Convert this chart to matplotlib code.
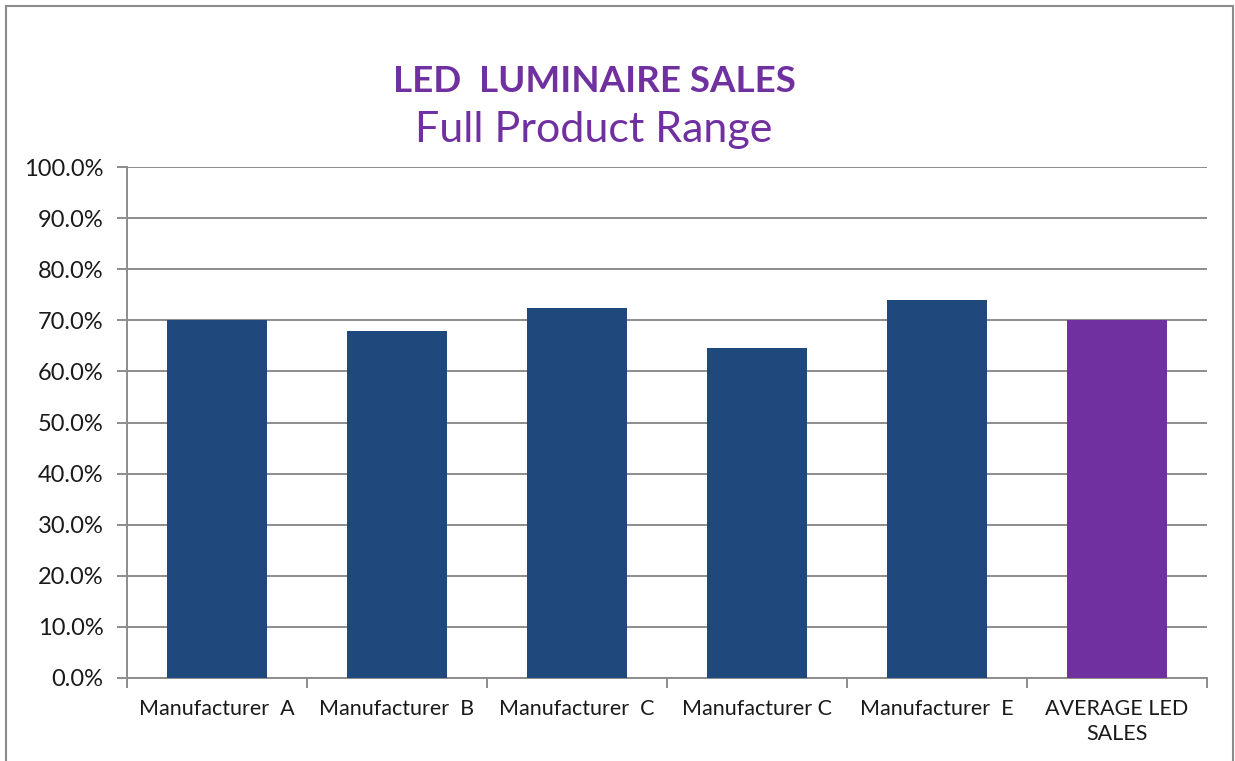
import matplotlib.pyplot as plt
from matplotlib.patches import Rectangle
from matplotlib.ticker import FixedLocator, PercentFormatter

plt.rcParams['font.family'] = ['Lato', 'DejaVu Sans']

categories = ['Manufacturer  A', 'Manufacturer  B', 'Manufacturer  C',
              'Manufacturer C', 'Manufacturer  E', 'AVERAGE LED\nSALES']
values = [70.0, 68.0, 72.4, 64.5, 74.0, 70.0]
colors = ['#1F497D'] * 5 + ['#7030A0']

fig = plt.figure(figsize=(12.35, 7.61), dpi=100)
ax = fig.add_axes([127/1235, 1 - 678/761, 1080/1235, 511/761])

x = list(range(len(categories)))
ax.bar(x, values, width=0.555, color=colors, zorder=3)

ax.set_xlim(-0.5, len(categories) - 0.5)
ax.set_ylim(0, 100)
ax.set_yticks(range(0, 101, 10))
ax.yaxis.set_major_formatter(PercentFormatter(decimals=1))
ax.yaxis.grid(True, color='#8c8c8c', linewidth=1.4, zorder=0)

ax.set_xticks(x)
ax.set_xticklabels(categories, fontsize=15.5, color='#1a1a1a', linespacing=1.3)
ax.xaxis.set_minor_locator(FixedLocator([i - 0.5 for i in range(len(categories) + 1)]))
ax.tick_params(axis='x', which='major', length=0, pad=15)
ax.tick_params(axis='x', which='minor', length=7, width=1.4, color='#8c8c8c')
ax.tick_params(axis='y', length=7, width=1.4, color='#8c8c8c', labelsize=17,
               labelcolor='#1a1a1a', pad=10)

for s in ['top', 'right']:
    ax.spines[s].set_visible(False)
for s in ['left', 'bottom']:
    ax.spines[s].set_color('#8c8c8c')
    ax.spines[s].set_linewidth(1.4)

fig.text(594/1235, 1 - 81/761, 'LED  LUMINAIRE SALES', ha='center', va='center',
         fontsize=26.5, fontweight='bold', color='#7030A0')
fig.text(594/1235, 1 - 130/761, 'Full Product Range', ha='center', va='center',
         fontsize=31, color='#7030A0')

fig.patches.append(Rectangle((6/1235, -0.01), 1227/1235, 1 - 6/761 + 0.01,
                             transform=fig.transFigure, fill=False,
                             edgecolor='#8c8c8c', linewidth=1.5))

fig.savefig('out.png', dpi=100)
